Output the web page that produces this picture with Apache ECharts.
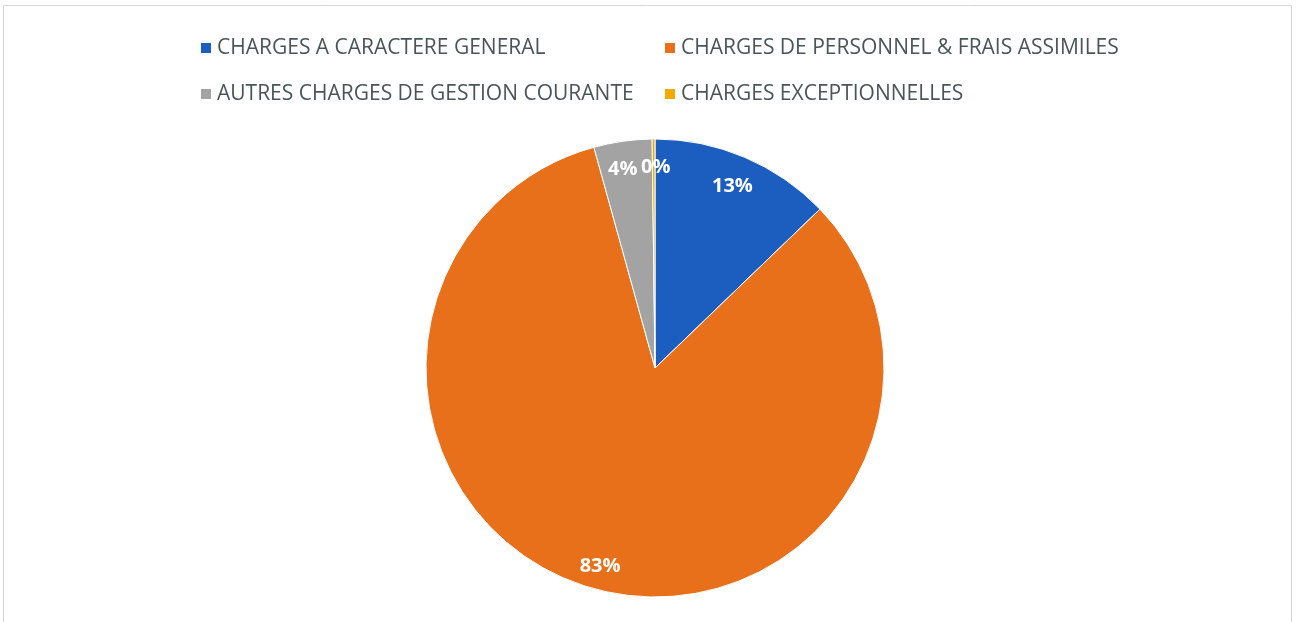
<!DOCTYPE html>
<html>
<head>
<meta charset="utf-8">
<script src="https://cdn.jsdelivr.net/npm/echarts@6/dist/echarts.min.js"></script>
<style>
  html, body { margin: 0; padding: 0; background: #fff; }
  #chart { width: 1298px; height: 622px; }
</style>
</head>
<body>
<div id="chart"></div>
<script>
// Répartition des charges (en % du total)
const categories = [
  "CHARGES A CARACTERE GENERAL",
  "CHARGES DE PERSONNEL & FRAIS ASSIMILES",
  "AUTRES CHARGES DE GESTION COURANTE",
  "CHARGES EXCEPTIONNELLES",
];
const values = [12.8, 82.9, 4.1, 0.2];
const colors = ["#1c5ec0", "#e8701a", "#a3a3a3", "#f2a900"];

const pieData = categories.map((name, i) => ({
  name: name,
  value: values[i],
  itemStyle: { color: colors[i] },
}));

// labels placés vers le bord, comme dans Excel
const labelOffsets = [[-4, 10], [0, -2], [-3, 7], [2, 7]];
const labelData = categories.map((name, i) => ({
  name: name,
  value: values[i],
  label: { offset: labelOffsets[i] },
}));

const legendText = {
  color: "#4b5558",
  fontSize: 21,
  fontFamily: "Open Sans",
  lineHeight: 24,
};

const option = {
  backgroundColor: "#fff",
  animation: false,
  graphic: [
    {
      type: "rect",
      shape: { x: 3.5, y: 5.5, width: 1288, height: 640 },
      style: { fill: "none", stroke: "#d6d6d6", lineWidth: 1 },
      silent: true,
    },
  ],
  legend: [
    {
      orient: "vertical",
      left: 199,
      top: 36,
      padding: 0,
      itemWidth: 12,
      itemHeight: 12,
      itemGap: 22,
      icon: "rect",
      textStyle: legendText,
      data: [categories[0], categories[2]],
    },
    {
      orient: "vertical",
      left: 663,
      top: 36,
      padding: 0,
      itemWidth: 12,
      itemHeight: 12,
      itemGap: 22,
      icon: "rect",
      textStyle: legendText,
      data: [categories[1], categories[3]],
    },
  ],
  series: [
    {
      type: "pie",
      center: [655, 368],
      radius: [0, 229],
      startAngle: 90,
      clockwise: true,
      label: { show: false },
      labelLine: { show: false },
      itemStyle: { borderColor: "#fff", borderWidth: 1 },
      emphasis: { disabled: true },
      data: pieData,
    },
    {
      // série transparente qui sert seulement à placer les pourcentages
      type: "pie",
      center: [655, 368],
      radius: [0, 410],
      startAngle: 90,
      clockwise: true,
      silent: true,
      percentPrecision: 0,
      avoidLabelOverlap: false,
      labelLayout: { hideOverlap: false },
      itemStyle: { color: "rgba(0,0,0,0)" },
      label: {
        show: true,
        position: "inside",
        formatter: "{d}%",
        color: "#fff",
        fontSize: 20,
        fontWeight: "bold",
        fontFamily: "Open Sans",
      },
      labelLine: { show: false },
      emphasis: { disabled: true },
      data: labelData,
    },
  ],
};

const myChart = echarts.init(document.getElementById("chart"));
myChart.setOption(option);
window.onresize = myChart.resize;
</script>
</body>
</html>
